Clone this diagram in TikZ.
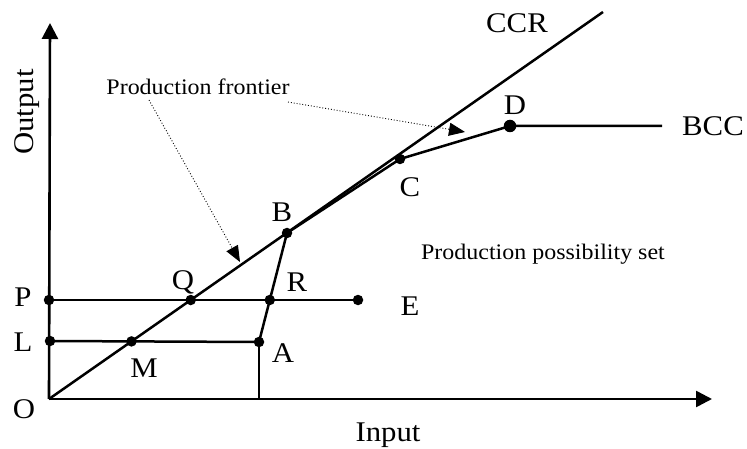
\documentclass[tikz,border=0pt]{standalone}
\usepackage{fontspec}
\setmainfont[FakeStretch=1.08]{Liberation Serif}
\usetikzlibrary{arrows.meta}
\begin{document}
\begin{tikzpicture}[x=1pt,y=-1pt,
  dot/.style={circle,fill,inner sep=0pt,minimum size=10.5pt},
  bigdot/.style={circle,fill,inner sep=0pt,minimum size=12.5pt},
  lbl/.style={font=\fontsize{28.5}{31}\selectfont,inner sep=0pt},
  note/.style={font=\fontsize{22.2}{25}\selectfont,inner sep=0pt},
  ln/.style={line width=2.5pt},
  ax/.style={line width=2.6pt,-{Triangle[length=16pt,width=16pt]}},
  ptr/.style={dotted,line width=0.9pt,-{Triangle[length=16pt,width=13pt]}}]
\useasboundingbox (0,0) rectangle (747,449);
% key coordinates
\coordinate (O) at (49,399);
\coordinate (yt) at (50,23);
\coordinate (xt) at (712,399);
\coordinate (T) at (603,12);
\coordinate (P) at (49,300);
\coordinate (E) at (358,300);
\coordinate (L) at (50,341);
\coordinate (A) at (259,342);
\coordinate (B) at (287,233);
\coordinate (C) at (400,159);
\coordinate (D) at (510,126);
\coordinate (Bend) at (662,126);
\coordinate (Af) at (A |- O);
\coordinate (Q) at (intersection of O--T and P--E);
\coordinate (M) at (intersection of O--T and L--A);
\coordinate (R) at (intersection of A--B and P--E);
\coordinate (s1) at (149,100);
\coordinate (t1) at (240,262);
\coordinate (s2) at (288,102);
\coordinate (t2) at (465,132);
% axes
\draw[ax] (O) -- (yt);
\draw[ax] (O) -- (xt);
% CCR frontier
\draw[ln] (O) -- (T);
% horizontal lines and projection
\draw[ln] (P) -- (E);
\draw[ln] (L) -- (A);
\draw[ln] (A) -- (Af);
% BCC frontier
\draw[ln,line join=round] (A) -- (B) -- (C) -- (D) -- (Bend);
% dots
\foreach \p in {P,L,M,Q,R,E,A,B,C} \node[dot] (d\p) at (\p) {};
\node[bigdot] (dD) at (D) {};
% pointers
\draw[ptr] (s1) -- (t1);
\draw[ptr] (s2) -- (t2);
% labels
\node[lbl] (lCCR) at (517,23) {CCR};
\node[lbl] (lBCC) at (713,126) {BCC};
\node[lbl] (lD) at (515,105) {D};
\node[lbl] (lC) at (410,187) {C};
\node[lbl] (lB) at (282,212) {B};
\node[lbl] (lQ) at (183,282) {Q};
\node[lbl] (lR) at (297,282) {R};
\node[lbl] (lP) at (23,297) {P};
\node[lbl] (lL) at (23,342) {L};
\node[lbl] (lM) at (144,368) {M};
\node[lbl] (lA) at (283,353) {A};
\node[lbl] (lO) at (24,409) {O};
\node[lbl] (lE) at (410,306) {E};
\node[lbl,anchor=base] (lIn) at (388,441) {Input};
\node[lbl,anchor=base,rotate=90] (lOut) at (33,112) {Output};
\node[note] (pf) at (198,87) {Production frontier};
\node[note,anchor=base] (pps) at (543,259) {Production possibility set};
\end{tikzpicture}
\end{document}
